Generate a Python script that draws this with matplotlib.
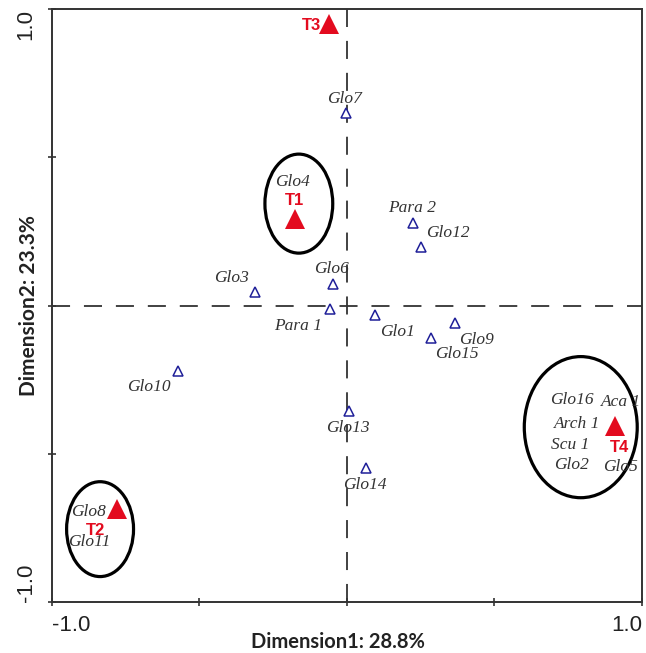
import matplotlib
matplotlib.use("Agg")
import matplotlib.pyplot as plt
from matplotlib.patches import Ellipse

plt.rcParams['lines.scale_dashes'] = False

# species points (blue open triangles)
sp_names = ["Glo7", "Para 2", "Glo12", "Glo6", "Glo3", "Para 1", "Glo1",
            "Glo9", "Glo15", "Glo10", "Glo13", "Glo14"]
sp_x = [-0.003, 0.224, 0.251, -0.047, -0.312, -0.058, 0.095, 0.366, 0.285, -0.573, 0.007, 0.064]
sp_y = [0.649, 0.278, 0.197, 0.073, 0.046, -0.012, -0.032, -0.059, -0.110, -0.221, -0.356, -0.548]
sp_lx = [-0.007, 0.220, 0.342, -0.051, -0.390, -0.166, 0.173, 0.441, 0.373, -0.671, 0.003, 0.061]
sp_ly = [0.696, 0.329, 0.245, 0.123, 0.093, -0.069, -0.089, -0.116, -0.164, -0.275, -0.413, -0.605]

# treatments (red filled triangles)
tr_names = ["T1", "T2", "T3", "T4"]
tr_x = [-0.176, -0.780, -0.061, 0.908]
tr_y = [0.292, -0.686, 0.949, -0.406]
tr_lx = [-0.176, -0.854, -0.119, 0.925]
tr_ly = [0.356, -0.758, 0.946, -0.477]

# labels grouped with treatments (no own marker)
grp_names = ["Glo4", "Glo8", "Glo11", "Glo16", "Aca 1", "Arch 1", "Scu 1", "Glo2", "Glo5"]
grp_x = [-0.183, -0.875, -0.875, 0.763, 0.862, 0.780, 0.756, 0.763, 0.868]
grp_y = [0.417, -0.696, -0.798, -0.319, -0.326, -0.400, -0.470, -0.538, -0.545]
grp_ha = ["center", "center", "center", "center", "left", "center", "center", "center", "left"]

# circled groups
ell_cx = [-0.163, -0.837, 0.793]
ell_cy = [0.344, -0.754, -0.410]
ell_w = [0.230, 0.227, 0.383]
ell_h = [0.334, 0.320, 0.476]

fig = plt.figure(figsize=(6.46, 6.53), dpi=100)
ax = fig.add_axes([0.0805, 0.078, 0.913, 0.908])
ax.set_xlim(-1, 1)
ax.set_ylim(-1, 1)

ax.axhline(0, color="#333333", lw=1.3, dashes=(13, 10), zorder=1)
ax.axvline(0, color="#333333", lw=1.3, dashes=(13, 10), zorder=1)

for cx, cy, w, h in zip(ell_cx, ell_cy, ell_w, ell_h):
    ax.add_patch(Ellipse((cx, cy), w, h, fill=False, ec="black", lw=2.3, zorder=2))

ax.plot(sp_x, sp_y, linestyle="none", marker="^", ms=7, mfc="white",
        mec="#1f1f99", mew=1.1, zorder=3)
ax.plot(tr_x, tr_y, linestyle="none", marker="^", ms=15, mfc="#e30b1f",
        mec="#e30b1f", mew=0, zorder=4)

lab_font = dict(family="Liberation Serif", style="italic", fontsize=12.5, color="#333333")
for n, x, y in zip(sp_names, sp_lx, sp_ly):
    ax.text(x, y, n, ha="center", va="center", **lab_font, zorder=5)
for n, x, y, ha in zip(grp_names, grp_x, grp_y, grp_ha):
    ax.text(x, y, n, ha=ha, va="center", clip_on=True, **lab_font, zorder=5)
for n, x, y in zip(tr_names, tr_lx, tr_ly):
    ax.text(x, y, n, ha="center", va="center", family="Liberation Sans",
            fontweight="bold", fontsize=12, color="#e30b1f", zorder=6)

for s in ax.spines.values():
    s.set_color("#333333")
    s.set_linewidth(1.4)

ticks = [-1.0, -0.5, 0.0, 0.5, 1.0]
tick_labels = ["-1.0", "", "", "", "1.0"]
ax.set_xticks(ticks)
ax.set_xticklabels(tick_labels, family="Liberation Sans", fontsize=16, color="#222222")
ax.set_yticks(ticks)
ax.set_yticklabels(tick_labels, family="Liberation Sans", fontsize=16, color="#222222",
                   rotation=90)
ax.tick_params(direction="inout", length=6, width=1.2, color="#333333")
ax.tick_params(axis="x", pad=6)
ax.tick_params(axis="y", pad=8)
xl = ax.get_xticklabels()
xl[0].set_ha("left")
xl[-1].set_ha("right")
yl = ax.get_yticklabels()
yl[0].set_va("bottom")
yl[-1].set_va("top")

ax.set_xlabel("Dimension1: 28.8%", family="Lato", fontweight="bold", fontsize=14.5,
              color="#222222")
ax.set_ylabel("Dimension2: 23.3%", family="Lato", fontweight="bold", fontsize=15,
              color="#222222")
ax.xaxis.set_label_coords(0.485, -0.050)
ax.yaxis.set_label_coords(-0.022, 0.5)

fig.savefig("out.png", dpi=100)
